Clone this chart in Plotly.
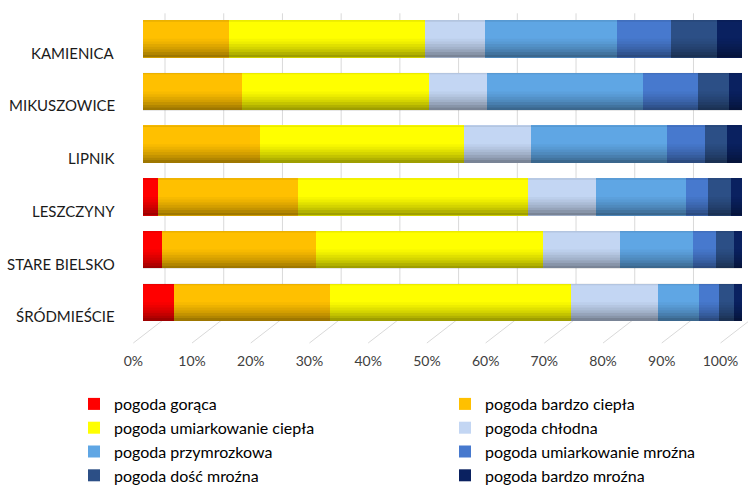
import plotly.graph_objects as go

categories = ["KAMIENICA", "MIKUSZOWICE", "LIPNIK", "LESZCZYNY", "STARE BIELSKO", "ŚRÓDMIEŚCIE"]

series_names = [
    "pogoda gorąca",
    "pogoda bardzo ciepła",
    "pogoda umiarkowanie ciepła",
    "pogoda chłodna",
    "pogoda przymrozkowa",
    "pogoda umiarkowanie mroźna",
    "pogoda dość mroźna",
    "pogoda bardzo mroźna",
]

goraca = [0, 0, 0, 2.5, 3.1, 5.2]
bardzo_ciepla = [14.3, 16.6, 19.6, 23.4, 25.7, 26.0]
umiark_ciepla = [32.7, 31.2, 34.0, 38.4, 38.0, 40.2]
chlodna = [10.1, 9.6, 11.2, 11.4, 12.8, 14.5]
przymrozkowa = [22.0, 26.1, 22.6, 15.0, 12.3, 7.0]
umiark_mrozna = [9.0, 9.2, 6.5, 3.6, 3.7, 3.2]
dosc_mrozna = [7.7, 5.1, 3.6, 3.8, 3.0, 2.5]
bardzo_mrozna = [4.2, 2.2, 2.5, 1.9, 1.4, 1.4]

series_values = [goraca, bardzo_ciepla, umiark_ciepla, chlodna,
                 przymrozkowa, umiark_mrozna, dosc_mrozna, bardzo_mrozna]

colors = ["#FF0000", "#FFC000", "#FFFF00", "#C3D6F3",
          "#5FA6E4", "#4779CE", "#2C4F86", "#0A2160"]

tick_vals = [0, 10, 20, 30, 40, 50, 60, 70, 80, 90, 100]
tick_text = ["0%", "10%", "20%", "30%", "40%", "50%", "60%", "70%", "80%", "90%", "100%"]

W, H = 748, 486
FONT = "Lato"
BARGAP = 0.29

fig = go.Figure()
for name, vals, col in zip(series_names, series_values, colors):
    fig.add_trace(go.Bar(
        y=categories, x=vals, name=name, orientation="h",
        marker=dict(color=col, line=dict(width=0)),
        xaxis="x", yaxis="y",
    ))

# invisible helper trace for the tick-label axis
fig.add_trace(go.Scatter(x=[0, 100], y=[categories[0], categories[0]], mode="markers",
                         marker=dict(opacity=0), showlegend=False, hoverinfo="skip",
                         xaxis="x2", yaxis="y"))

def px_x(p):
    return p / W

def px_y(p):
    return 1 - p / H

shapes = []
front0, back0, step = 133.3, 165.0, 5.872
for t in tick_vals:
    xf = front0 + step * t
    xb = back0 + step * t
    shapes.append(dict(type="line", xref="paper", yref="paper",
                       x0=px_x(xb), x1=px_x(xb), y0=px_y(13.3), y1=px_y(318.5),
                       line=dict(color="#D9D9D9", width=1), layer="below"))
    shapes.append(dict(type="line", xref="paper", yref="paper",
                       x0=px_x(xf), x1=px_x(xb), y0=px_y(343), y1=px_y(318.5),
                       line=dict(color="#D9D9D9", width=1), layer="below"))

# cylinder-like shading over each bar (darker towards the bottom edge)
half = (1 - BARGAP) / 2
totals = [sum(v) for v in zip(*series_values)]
bands = [(0.00, 0.05, 0.03), (0.05, 0.10, 0.07), (0.10, 0.15, 0.12), (0.15, 0.20, 0.17),
         (0.20, 0.25, 0.23), (0.25, 0.30, 0.30), (0.30, half, 0.38)]
for c, tot in zip(categories, totals):
    for s0, s1, op in bands:
        shapes.append(dict(type="rect", xref="x", yref="y", x0=0, x1=tot,
                           y0=c, y1=c, y0shift=s0, y1shift=s1,
                           fillcolor=f"rgba(0,0,0,{op})", line=dict(width=0), layer="above"))
    shapes.append(dict(type="rect", xref="x", yref="y", x0=0, x1=tot,
                       y0=c, y1=c, y0shift=-half, y1shift=-half + 0.03,
                       fillcolor="rgba(0,0,0,0.08)", line=dict(width=0), layer="above"))

annotations = []
for c in categories:
    annotations.append(dict(text=c, x=px_x(117), xref="paper", y=c, yref="y",
                            xanchor="right", yanchor="middle", yshift=-14,
                            showarrow=False, font=dict(family=FONT, size=15, color="#1a1a1a")))

fig.update_layout(
    width=W, height=H,
    margin=dict(l=0, r=0, t=0, b=0, autoexpand=False),
    paper_bgcolor="white", plot_bgcolor="rgba(0,0,0,0)",
    barmode="stack", barnorm="percent", bargap=BARGAP,
    font=dict(family=FONT),
    xaxis=dict(domain=[px_x(143), px_x(742)], range=[0, 100], showgrid=False,
               showticklabels=False, zeroline=False, showline=False, fixedrange=True),
    xaxis2=dict(domain=[px_x(133.3), px_x(720.5)], range=[0, 100], anchor="free",
                position=px_y(351), tickvals=tick_vals, ticktext=tick_text,
                showgrid=False, zeroline=False, showline=False, ticks="",
                tickfont=dict(family=FONT, size=14, color="#404040"), automargin=False),
    yaxis=dict(domain=[px_y(328.65), px_y(12.45)], type="category",
               categoryorder="array", categoryarray=categories, range=[5.5, -0.5],
               showticklabels=False, showgrid=False, zeroline=False, showline=False,
               automargin=False),
    legend=dict(orientation="h", x=px_x(74), xanchor="left", y=px_y(387), yanchor="top",
                entrywidth=326, entrywidthmode="pixels", traceorder="normal",
                font=dict(family=FONT, size=16, color="#000000"),
                itemclick=False, itemdoubleclick=False, tracegroupgap=0),
    shapes=shapes,
    annotations=annotations,
    showlegend=True,
)

fig.write_html("out.html")
